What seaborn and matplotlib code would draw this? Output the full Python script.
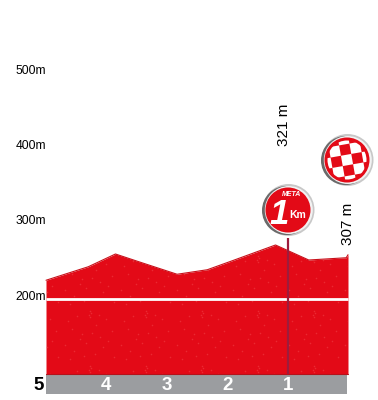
import numpy as np
import pandas as pd
import seaborn as sns
import matplotlib
matplotlib.use("Agg")
import matplotlib.pyplot as plt
from matplotlib.patches import Circle, Rectangle
from matplotlib.transforms import Affine2D

# profile, km to the finish / altitude in m
km=[5.0,4.3,3.85,3.4,2.83,2.33,1.95,1.2,0.65,0.03,0.0]
alt=[225,243,260,248,233,239,250,272,252,255,259]
km_labels=[5,4,3,2,1]
alt_ticks=[500,400,300,200]
meta_km=1.0
peak_labels=["321 m","307 m"]

# light specks of the red fill, one 56 px tile
speck_x=[28,29,27,28,6,10,15,20,34,38,44,50,3,12,24,33,41,52,8,18,30,46,22,37]
speck_y=[4,6,8,10,14,22,9,27,18,30,12,24,38,44,36,47,40,50,52,32,26,34,49,8]

RED="#e30a17"
df=pd.DataFrame({"km":km,"alt":alt})

sns.set_style("white")
plt.rcParams['font.family']=['Liberation Sans','DejaVu Sans']

fig=plt.figure(figsize=(3.78,4),dpi=100)
ax=fig.add_axes([0,0,1,1])
ov=fig.add_axes([0,0,1,1],facecolor="none")
ov.set_xlim(0,378)
ov.set_ylim(400,0)
ov.axis("off")

base=100
poly=ax.fill_between(df.km,base,df.alt,color=RED,lw=0,zorder=1)
sns.lineplot(data=df,x="km",y="alt",color="#c8101a",lw=0.8,ax=ax,zorder=2,legend=False)
# 60.4 px per km, 0.75 px per m
ax.set_xlim(348/60.4,(348-378)/60.4)
ax.set_ylim(200-(400-299)/0.75,200+299/0.75)
ax.axis("off")

# tiled specks
tile_x=[]
tile_y=[]
for i in range(-1,6):
    for j in range(0,3):
        for sx,sy in zip(speck_x,speck_y):
            tile_x.append(62+i*56+sx)
            tile_y.append(252+j*55+sy)
sp=ax.scatter(tile_x,tile_y,s=1.3,color="#f4484e",lw=0,alpha=0.5,zorder=1.5,transform=ov.transData)
sp.set_clip_path(poly.get_paths()[0],poly.get_transform())
ax.set_xlim(348/60.4,(348-378)/60.4)
ax.set_ylim(200-(400-299)/0.75,200+299/0.75)

# km band
ax.fill_between([5.0,0.02],73,base,color="#9b9da0",lw=0,zorder=1)
ax.plot([5.0,0],[base,base],color="#b5121b",lw=0.8,zorder=2)
ax.plot([5.0,0],[200,200],color="white",lw=2,zorder=3,solid_capstyle="butt")
ax.plot([meta_km,meta_km],[base,282],color="#9c1c3c",lw=1.6,zorder=4,solid_capstyle="butt")

for k in km_labels:
    if k==5:
        ax.text(k+0.115,84,str(k),color="black",fontsize=13.5,fontweight="bold",ha="center",va="center")
    else:
        ax.text(k,84,str(k),color="white",fontsize=13.5,fontweight="bold",ha="center",va="center")
for a in alt_ticks:
    ax.text(5.0,a+4 if a>200 else a+3,str(a)+"m",fontsize=8.7,ha="right",va="center",color="black")

ov.text(284,125,peak_labels[0],rotation=90,fontsize=11,ha="center",va="center",color="black")
ov.text(347.5,224,peak_labels[1],rotation=90,fontsize=11,ha="center",va="center",color="black")

def badge(cx,cy):
    # light rim on the right, dark on the left
    ov.add_patch(Circle((cx+0.5,cy),26,fc="#c8c8c8",ec="none",zorder=5))
    ov.add_patch(Circle((cx-1.5,cy+0.5),24.5,fc="#6a6a6a",ec="none",zorder=5))
    ov.add_patch(Circle((cx+0.8,cy),24,fc="#f2f2f2",ec="none",zorder=5))
    return ov.add_patch(Circle((cx,cy),22.5,fc=RED,ec="none",zorder=6))

# meta badge
badge(288,210)
ov.text(292,194.5,"META",color="white",fontsize=5,fontweight="bold",style="italic",ha="center",va="center",zorder=7)
ov.text(279,214,"1",color="white",fontsize=25,fontweight="bold",style="italic",ha="center",va="center",zorder=7)
ov.text(297.5,215,"Km",color="white",fontsize=7.5,fontweight="bold",ha="center",va="center",zorder=7)

# finish badge, chequered and a bit tilted
badge(347,160)
inner=ov.add_patch(Circle((347,160),19.5,fc="none",ec="none",zorder=6))
cell=10.5
tilt=Affine2D().rotate_deg_around(347,160,-10)+ov.transData
for i in range(-3,4):
    for j in range(-3,4):
        if (i+j)%2==0:
            r=Rectangle((347+(i-0.5)*cell,160+(j-0.5)*cell),cell,cell,fc="white",ec="none",zorder=7,transform=tilt)
            ov.add_patch(r)
            r.set_clip_path(inner)

fig.savefig("out.png",dpi=100)
